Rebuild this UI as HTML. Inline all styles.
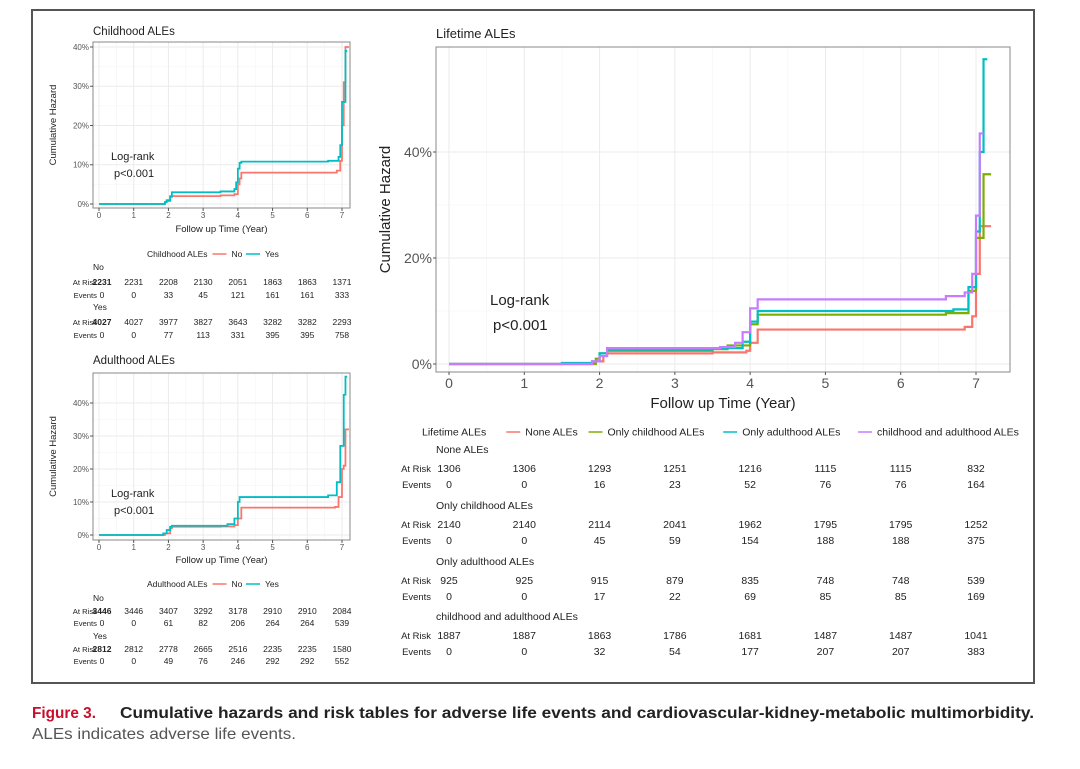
<!DOCTYPE html>
<html><head><meta charset="utf-8">
<style>
body{margin:0;background:#fff;width:1080px;height:764px;overflow:hidden;font-family:"Liberation Sans",sans-serif;}
svg text{font-family:"Liberation Sans",sans-serif;}
</style></head>
<body>
<svg id="fig" width="1080" height="764" xmlns="http://www.w3.org/2000/svg">
<rect x="32" y="10" width="1002" height="673" fill="none" stroke="#555" stroke-width="2"/>
<text x="32" y="718" font-size="16" font-weight="bold" fill="#222"><tspan fill="#c8102e" textLength="64" lengthAdjust="spacingAndGlyphs">Figure 3.</tspan><tspan x="120" textLength="914" lengthAdjust="spacingAndGlyphs">Cumulative hazards and risk tables for adverse life events and cardiovascular-kidney-metabolic multimorbidity.</tspan></text>
<text x="32" y="739" font-size="16" fill="#555" textLength="264" lengthAdjust="spacingAndGlyphs">ALEs indicates adverse life events.</text>
</svg>
<script>
// ===== data =====
const xTicks = [0,1,2,3,4,5,6,7];
const colRed='#F8766D', colGreen='#7CAE00', colTeal='#00BFC4', colPurple='#C77CFF';

// Childhood panel
const childNoT = [0,1.9,1.95,2.05,2.1,3.5,3.9,4.0,4.05,4.1,6.85,6.95,7.0,7.05,7.1,7.15,7.2];
const childNoV = [0,0.5,1,1.8,2,2.2,2.5,5,6.5,8,8.5,11,20,31,40,40,40];
const childYesT = [0,1.9,1.95,2.05,2.1,3.5,3.9,3.95,4.0,4.05,4.1,6.6,6.9,6.95,7.0,7.1,7.15];
const childYesV = [0,0.5,0.8,2,3,3.2,3.8,5.5,9,10.5,10.8,11,12,15,26,39,39];
const childYTicks = [0,10,20,30,40];
const childNoRisk = [2231,2231,2208,2130,2051,1863,1863,1371];
const childNoEv = [0,0,33,45,121,161,161,333];
const childYesRisk = [4027,4027,3977,3827,3643,3282,3282,2293];
const childYesEv = [0,0,77,113,331,395,395,758];

// Adulthood panel
const adultNoT = [0,1.9,2.05,2.1,3.5,3.9,4.0,4.1,6.8,6.9,7.0,7.05,7.1,7.2];
const adultNoV = [0,0.5,2,2.5,2.6,3,5,8.3,8.5,11.5,20,21,32,32];
const adultYesT = [0,1.85,1.95,2.05,2.1,3.7,3.9,4.0,4.05,6.6,6.85,6.95,7.05,7.1,7.15];
const adultYesV = [0,0.5,1.5,2.5,2.8,3.3,5,10,11.5,12,16,27,42.5,48,48];
const adultYTicks = [0,10,20,30,40];
const adultNoRisk = [3446,3446,3407,3292,3178,2910,2910,2084];
const adultNoEv = [0,0,61,82,206,264,264,539];
const adultYesRisk = [2812,2812,2778,2665,2516,2235,2235,1580];
const adultYesEv = [0,0,49,76,246,292,292,552];

// Lifetime panel
const noneT = [0,1.9,1.95,2.05,2.1,3.5,3.95,4.0,4.1,6.85,6.95,7.0,7.05,7.2];
const noneV = [0,0.2,0.5,1.5,2,2.2,2.5,4,6.5,7,9,17,26,26];
const onlyChildT = [0,1.95,2.0,2.1,3.5,3.7,4.0,4.1,6.6,6.9,7.0,7.1,7.2];
const onlyChildV = [0,1,2,2.5,2.8,3.5,7.5,9.3,9.6,13.8,23.8,35.8,35.8];
const onlyAdultT = [0,1.5,1.9,2.0,2.1,3.5,3.9,4.0,4.1,6.7,6.9,7.0,7.05,7.1,7.15];
const onlyAdultV = [0,0.2,0.5,2,2.7,3,4.2,8,10,10.3,14.5,25,40,57.5,57.5];
const bothT = [0,1.9,2.0,2.1,3.6,3.8,3.9,4.0,4.1,6.6,6.85,6.95,7.0,7.05,7.1];
const bothV = [0,0.5,1.5,3,3.2,4,6,10.5,12.2,12.8,13.5,17,28,43.5,43.5];
const lifeYTicks = [0,20,40];
const lifeGroups = ['None ALEs','Only childhood ALEs','Only adulthood ALEs','childhood and adulthood ALEs'];
const noneRisk = [1306,1306,1293,1251,1216,1115,1115,832];
const noneEv = [0,0,16,23,52,76,76,164];
const onlyChildRisk = [2140,2140,2114,2041,1962,1795,1795,1252];
const onlyChildEv = [0,0,45,59,154,188,188,375];
const onlyAdultRisk = [925,925,915,879,835,748,748,539];
const onlyAdultEv = [0,0,17,22,69,85,85,169];
const bothRisk = [1887,1887,1863,1786,1681,1487,1487,1041];
const bothEv = [0,0,32,54,177,207,207,383];

// ===== drawing =====
const NS='http://www.w3.org/2000/svg';
const svg=document.getElementById('fig');
function mk(tag,attrs,parent){const e=document.createElementNS(NS,tag);for(const k in attrs)e.setAttribute(k,attrs[k]);(parent||svg).appendChild(e);return e;}
function txt(s,attrs,parent){const e=mk('text',attrs,parent);e.textContent=s;return e;}

function panel(o){
  const g=mk('g',{});
  
  
  const sx=t=>o.x0+(o.x7-o.x0)*t/7;
  const sy=v=>o.y0-(o.y0-o.yTop)*v/o.yTopVal;
  const minor=[];for(let i=0;i<xTicks.length-1;i++)minor.push(xTicks[i]+0.5);
  minor.forEach(t=>{const l=mk('line',{x1:sx(t),x2:sx(t),y1:o.top,y2:o.bottom,stroke:'#f4f4f4','stroke-width':0.6},g);});
  for(let i=0;i<o.yTicks.length-1;i++){const v=(o.yTicks[i]+o.yTicks[i+1])/2;const l=mk('line',{x1:o.left,x2:o.right,y1:sy(v),y2:sy(v),stroke:'#f4f4f4','stroke-width':0.6},g);}
  xTicks.forEach(t=>{const l=mk('line',{x1:sx(t),x2:sx(t),y1:o.top,y2:o.bottom,stroke:'#ebebeb','stroke-width':1},g);});
  o.yTicks.forEach(v=>{const l=mk('line',{x1:o.left,x2:o.right,y1:sy(v),y2:sy(v),stroke:'#ebebeb','stroke-width':1},g);});
  o.series.forEach(s=>{
    let d='M'+sx(s.t[0])+','+sy(s.v[0]);
    for(let i=1;i<s.t.length;i++){d+=' H'+sx(s.t[i])+' V'+sy(s.v[i]);}
    const p=mk('path',{d:d,fill:'none',stroke:s.c,'stroke-width':o.lw},g);
    
    
  });
  const fr=mk('rect',{x:o.left,y:o.top,width:o.right-o.left,height:o.bottom-o.top,fill:'none',stroke:'#888','stroke-width':1},g);
  
  xTicks.forEach(t=>{
    mk('line',{x1:sx(t),x2:sx(t),y1:o.bottom,y2:o.bottom+3,stroke:'#555'},g);
    const e=txt(String(t),{x:sx(t),y:o.bottom+o.fs+2,'font-size':o.fs,fill:'#555','text-anchor':'middle'},g);
    
  });
  o.yTicks.forEach(v=>{
    mk('line',{x1:o.left-3,x2:o.left,y1:sy(v),y2:sy(v),stroke:'#555'},g);
    const e=txt(v+'%',{x:o.left-4,y:sy(v)+o.fs*0.35,'font-size':o.fs,fill:'#555','text-anchor':'end'},g);
    
  });
  let e=txt(o.title,{x:o.left,y:o.titleY,'font-size':o.titleFs,fill:'#222'},g);
  
  e=txt('Follow up Time (Year)',{x:(o.left+o.right)/2,y:o.xTitleY,'font-size':o.axFs,fill:'#222','text-anchor':'middle'},g);
  
  e=txt('Cumulative Hazard',{x:0,y:0,'font-size':o.axFs,fill:'#222','text-anchor':'middle',transform:'translate('+o.yTitleX+','+(o.top+o.bottom)/2+') rotate(-90)'},g);
  
  e=txt('Log-rank',{x:o.lrX,y:o.lrY,'font-size':o.lrFs,fill:'#222'},g);
  
  e=txt('p<0.001',{x:o.lrX+3,y:o.lrY+o.lrGap,'font-size':o.lrFs,fill:'#222'},g);
  
  let lx=o.legX;
  e=txt(o.legTitle,{x:lx,y:o.legY+o.legFs*0.35,'font-size':o.legFs,fill:'#222'},g);
  
  lx+=o.legTitle.length*o.legFs*0.5+o.legPad;
  o.series.forEach(s=>{
    const it=mk('g',{},g);
    
    mk('line',{x1:lx,x2:lx+14,y1:o.legY,y2:o.legY,stroke:s.c,'stroke-width':1.5},it);
    txt(s.label,{x:lx+19,y:o.legY+o.legFs*0.35,'font-size':o.legFs,fill:'#222'},it);
    lx+=19+s.label.length*o.legFs*0.5+o.legPad;
  });
  o.tables.forEach(tb=>{
    const tg=mk('g',{},g);
    
    txt(tb.label,{x:o.grpX,y:tb.y,'font-size':o.tFs,fill:'#222'},tg);
    txt('At Risk',{x:o.rowLabX,y:tb.y+o.r1,'font-size':o.tFs*0.9,fill:'#222','text-anchor':'end'},tg);
    txt('Events',{x:o.rowLabX,y:tb.y+o.r2,'font-size':o.tFs*0.9,fill:'#222','text-anchor':'end'},tg);
    tb.risk.forEach((v,i)=>{txt(String(v),{x:sx(xTicks[i])+(i==0?o.firstShift:0),y:tb.y+o.r1,'font-size':o.tFs,fill:'#222','text-anchor':'middle','font-weight':(i==0&&o.boldFirst)?'bold':'normal'},tg);});
    tb.ev.forEach((v,i)=>{txt(String(v),{x:sx(xTicks[i])+(i==0?o.firstShift:0),y:tb.y+o.r2+(o.evDrop||0),'font-size':o.tFs,fill:'#222','text-anchor':'middle'},tg);});
  });
}

panel({name:'childhood-panel',left:93,right:350,top:42,bottom:208,x0:99,x7:342,y0:204,yTop:47,yTopVal:40,yTicks:childYTicks,lw:1.8,fs:8,
  title:'Childhood ALEs',titleY:35,titleFs:11.5,xTitleY:232,axFs:9.5,yTitleX:56,lrX:111,lrY:160,lrFs:11,lrGap:17,
  legTitle:'Childhood ALEs',legX:147,legY:254,legFs:8.5,legPad:6,
  series:[{name:'childhood-no-line',label:'No',c:colRed,t:childNoT,v:childNoV},{name:'childhood-yes-line',label:'Yes',c:colTeal,t:childYesT,v:childYesV}],
  grpX:93,rowLabX:97,tFs:8.5,r1:15,r2:28,firstShift:3,boldFirst:true,
  tables:[{key:'no',label:'No',y:270,risk:childNoRisk,ev:childNoEv},{key:'yes',label:'Yes',y:310,risk:childYesRisk,ev:childYesEv}]});

panel({name:'adulthood-panel',left:93,right:350,top:373,bottom:540,x0:99,x7:342,y0:535,yTop:403,yTopVal:40,yTicks:adultYTicks,lw:1.8,fs:8,
  title:'Adulthood ALEs',titleY:364,titleFs:11.5,xTitleY:563,axFs:9.5,yTitleX:56,lrX:111,lrY:497,lrFs:11,lrGap:17,
  legTitle:'Adulthood ALEs',legX:147,legY:584,legFs:8.5,legPad:6,
  series:[{name:'adulthood-no-line',label:'No',c:colRed,t:adultNoT,v:adultNoV},{name:'adulthood-yes-line',label:'Yes',c:colTeal,t:adultYesT,v:adultYesV}],
  grpX:93,rowLabX:97,tFs:8.5,r1:13,r2:25,firstShift:3,boldFirst:true,
  tables:[{key:'no',label:'No',y:601,risk:adultNoRisk,ev:adultNoEv},{key:'yes',label:'Yes',y:639,risk:adultYesRisk,ev:adultYesEv}]});

panel({name:'lifetime-panel',left:436,right:1010,top:47,bottom:372,x0:449,x7:976,y0:364,yTop:152,yTopVal:40,yTicks:lifeYTicks,lw:2.2,fs:14,
  title:'Lifetime ALEs',titleY:38,titleFs:13,xTitleY:408,axFs:15,yTitleX:390,lrX:490,lrY:305,lrFs:15,lrGap:25,
  legTitle:'Lifetime ALEs',legX:422,legY:432,legFs:10.5,legPad:16,
  series:[{name:'none-ales-line',label:'None ALEs',c:colRed,t:noneT,v:noneV},{name:'only-childhood-line',label:'Only childhood ALEs',c:colGreen,t:onlyChildT,v:onlyChildV},{name:'only-adulthood-line',label:'Only adulthood ALEs',c:colTeal,t:onlyAdultT,v:onlyAdultV},{name:'both-ales-line',label:'childhood and adulthood ALEs',c:colPurple,t:bothT,v:bothV}],
  grpX:436,rowLabX:431,tFs:10.5,r1:19,r2:35,evDrop:0,firstShift:0,boldFirst:false,
  tables:[{key:'none',label:lifeGroups[0],y:453,risk:noneRisk,ev:noneEv},{key:'only-childhood',label:lifeGroups[1],y:509,risk:onlyChildRisk,ev:onlyChildEv},{key:'only-adulthood',label:lifeGroups[2],y:565,risk:onlyAdultRisk,ev:onlyAdultEv},{key:'both',label:lifeGroups[3],y:620,risk:bothRisk,ev:bothEv}]});
</script>
</body></html>
